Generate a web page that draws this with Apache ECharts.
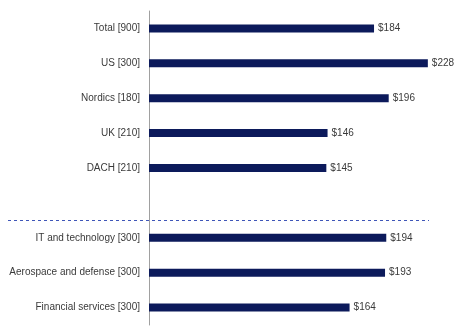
<!DOCTYPE html>
<html><head><meta charset="utf-8">
<script src="https://cdn.jsdelivr.net/npm/echarts@6/dist/echarts.min.js"></script>
<style>html,body{margin:0;padding:0;background:#fff}#c{width:471px;height:330px}</style>
</head><body><div id="c"></div>
<script>
const categories = ['Total [900]','US [300]','Nordics [180]','UK [210]','DACH [210]','','IT and technology [300]','Aerospace and defense [300]','Financial services [300]'];
const values = [184,228,196,146,145,null,194,193,164];
const chart = echarts.init(document.getElementById('c'));
chart.setOption({
  animation:false,
  grid:{left:149,top:11,height:314,width:305.75,outerBoundsMode:'none',containLabel:false},
  xAxis:{type:'value',min:0,max:250,show:false},
  yAxis:{type:'category',data:categories,inverse:true,
    axisLine:{lineStyle:{color:'#a0a0a0',width:1}},axisTick:{show:false},
    axisLabel:{margin:9,color:'#3a3a3a',fontSize:10,fontFamily:'Liberation Sans, Arial, sans-serif'}},
  series:[{type:'bar',data:values,barWidth:8,itemStyle:{color:'#0c1a5b'},
    label:{show:true,position:'right',distance:4,color:'#3a3a3a',fontSize:10,fontFamily:'Liberation Sans, Arial, sans-serif',formatter:p=>'$'+p.value}}]
});
const y1 = chart.convertToPixel({yAxisIndex:0}, '');
const y2 = chart.convertToPixel({yAxisIndex:0}, 'IT and technology [300]');
const y = Math.floor((y1+y2)/2)+0.5;
chart.setOption({graphic:[{type:'line',shape:{x1:8,y1:y,x2:429,y2:y},style:{stroke:'#3f56b8',lineWidth:1,lineDash:[3,3]}}]});
</script></body></html>
